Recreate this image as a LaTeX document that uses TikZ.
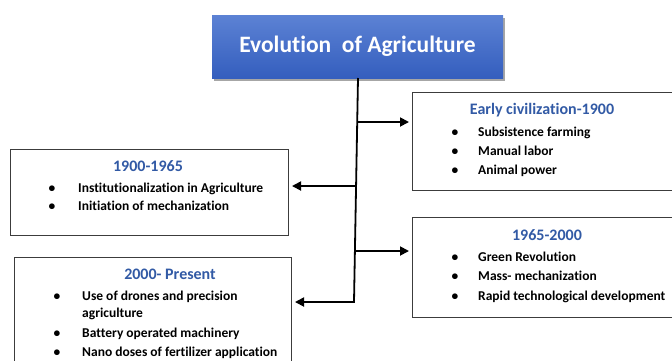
\documentclass[tikz,border=0pt]{standalone}
\usepackage{fontspec}
\setmainfont[Ligatures=NoCommon]{Carlito}
\usetikzlibrary{arrows.meta,shadows}
\definecolor{headblue}{RGB}{50,90,165}
\definecolor{titletop}{RGB}{92,130,212}
\definecolor{titlebot}{RGB}{52,94,190}
\definecolor{boxline}{RGB}{60,60,60}
\tikzset{
  panel/.style={draw=boxline, line width=1pt, inner sep=0pt, anchor=north west},
  head/.style={text=headblue, font=\fontsize{16}{18}\selectfont\bfseries, anchor=base, inner sep=0pt},
  item/.style={font=\fontsize{13.5}{16}\selectfont\bfseries, anchor=base west, inner sep=0pt},
  dot/.style={font=\fontsize{13.5}{16}\selectfont\bfseries, anchor=base, inner sep=0pt},
  link/.style={line width=1.8pt, -{Triangle[length=9pt,width=9pt]}, shorten >=3pt},
  titlebox/.style={minimum width=291pt, minimum height=63pt, inner sep=0pt,
    top color=titletop, bottom color=titlebot, text=white,
    font=\fontsize{23.5}{26}\selectfont\bfseries,
    drop shadow={shadow xshift=2pt, shadow yshift=-3pt, opacity=0.35, fill=black}},
}
\begin{document}
\begin{tikzpicture}[x=1pt,y=-1pt]
\clip (0,0) rectangle (672,360);
\fill[white] (0,0) rectangle (672,360);

% title
\node[titlebox] (title) at (357.5,46.5) {Evolution~ of Agriculture};

% panels
\node[panel, minimum width=272pt, minimum height=98pt] (early) at (412,92) {};
\node[panel, minimum width=278pt, minimum height=86pt] (b1900) at (10,149) {};
\node[panel, minimum width=277pt, minimum height=115pt] (b2000) at (14,257) {};
\node[panel, minimum width=272pt, minimum height=100pt] (b1965) at (412,217) {};

% Early civilization
\node[head] (h1) at (542,114) {Early civilization-1900};
\node[dot] (d11) at (455,136.5) {•};
\node[item] (t11) at (478,136.5) {Subsistence farming};
\node[dot] (d12) at (455,155.5) {•};
\node[item] (t12) at (478,155.5) {Manual labor};
\node[dot] (d13) at (455,174.5) {•};
\node[item] (t13) at (478,174.5) {Animal power};

% 1900-1965
\node[head] (h2) at (148,171) {1900-1965};
\node[dot] (d21) at (52,192.5) {•};
\node[item] (t21) at (78,192.5) {Institutionalization in Agriculture};
\node[dot] (d22) at (52,210.5) {•};
\node[item] (t22) at (78,210.5) {Initiation of mechanization};

% 1965-2000
\node[head] (h3) at (547,240) {1965-2000};
\node[dot] (d31) at (455,261.5) {•};
\node[item] (t31) at (478,261.5) {Green Revolution};
\node[dot] (d32) at (455,280.5) {•};
\node[item] (t32) at (478,280.5) {Mass- mechanization};
\node[dot] (d33) at (455,300.5) {•};
\node[item] (t33) at (478,300.5) {Rapid technological development};

% 2000-Present
\node[head] (h4) at (170,279) {2000- Present};
\node[dot] (d41) at (57,300.5) {•};
\node[item] (t41) at (82,300.5) {Use of drones and precision};
\node[item] (t41b) at (82,317.5) {agriculture};
\node[dot] (d42) at (57,337.5) {•};
\node[item] (t42) at (82,337.5) {Battery operated machinery};
\node[dot] (d43) at (57,356.5) {•};
\node[item] (t43) at (82,356.5) {Nano doses of fertilizer application};

% connectors
\coordinate (top) at (358,78);
\coordinate (j1) at (357.2,122);
\coordinate (j2) at (356.1,186);
\coordinate (j3) at (354.9,251);
\coordinate (bot) at (354,302);
\draw[link] (top) -- (bot) -- (bot -| b2000.east);
\draw[link] (j1) -- (j1 -| early.west);
\draw[link] (j2) -- (j2 -| b1900.east);
\draw[link] (j3) -- (j3 -| b1965.west);
\end{tikzpicture}
\end{document}
